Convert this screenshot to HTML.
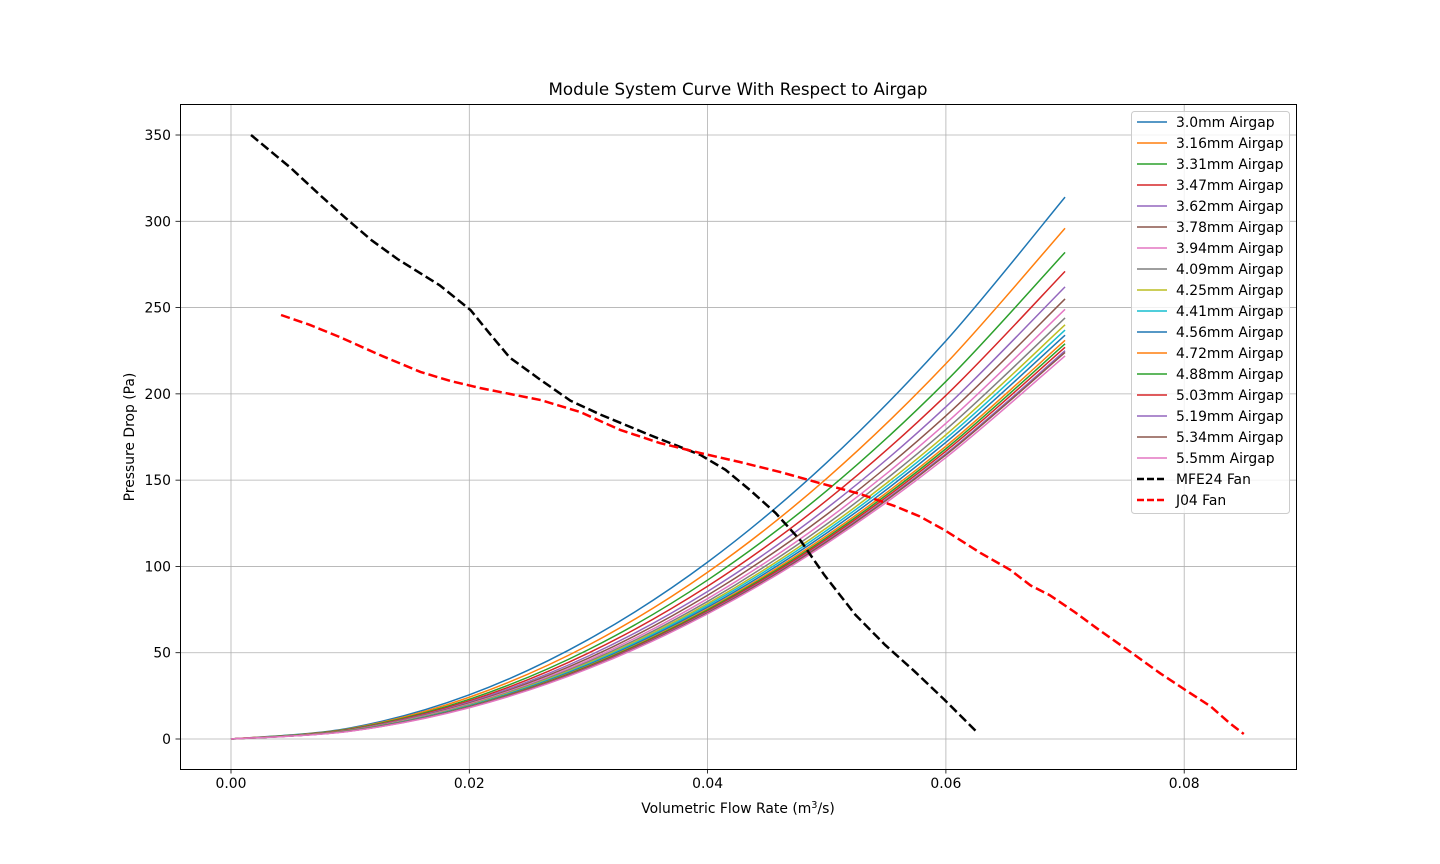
<!DOCTYPE html>
<html><head><meta charset="utf-8"><style>
body{margin:0;background:#fff;}
svg{display:block;font-family:"DejaVu Sans","Liberation Sans",sans-serif;}
</style></head><body>
<svg id="chart" width="1440" height="864">
<rect x="0" y="0" width="1440" height="864" fill="#fff"/>
<g id="grid"></g>
<g id="series"></g>
<rect x="180.5" y="104.5" width="1116" height="665" fill="none" stroke="#000" stroke-width="1"/>
<g id="ticks"></g>
<text x="738" y="95" text-anchor="middle" font-size="16.7">Module System Curve With Respect to Airgap</text>
<text x="738" y="813" text-anchor="middle" font-size="13.9">Volumetric Flow Rate (m<tspan dy="-5" font-size="9.7">3</tspan><tspan dy="5">/s)</tspan></text>
<text x="134" y="437" text-anchor="middle" font-size="13.9" transform="rotate(-90 134 437)">Pressure Drop (Pa)</text>
<g id="legend"></g>
</svg>
<script>
const xTicks=[0,0.02,0.04,0.06,0.08];
const xTickLabels=["0.00","0.02","0.04","0.06","0.08"];
const yTicks=[0,50,100,150,200,250,300,350];
const flowX=[0,0.01,0.02,0.03,0.04,0.05,0.06,0.07];
const airgapLabels=["3.0mm Airgap","3.16mm Airgap","3.31mm Airgap","3.47mm Airgap","3.62mm Airgap","3.78mm Airgap","3.94mm Airgap","4.09mm Airgap","4.25mm Airgap","4.41mm Airgap","4.56mm Airgap","4.72mm Airgap","4.88mm Airgap","5.03mm Airgap","5.19mm Airgap","5.34mm Airgap","5.5mm Airgap"];
const s0=[0,6.4,25.6,57.7,102.5,160.2,230.7,314];
const s1=[0,6.0,24.2,54.4,96.6,151.0,217.5,296];
const s2=[0,5.8,23.0,51.8,92.1,143.9,207.2,282];
const s3=[0,5.5,22.1,49.8,88.5,138.3,199.1,271];
const s4=[0,5.3,21.4,48.1,85.5,133.7,192.5,262];
const s5=[0,5.2,20.8,46.8,83.3,130.1,187.3,255];
const s6=[0,5.1,20.3,45.7,81.3,127.0,182.9,249];
const s7=[0,5.0,19.9,44.8,79.7,124.5,179.3,244];
const s8=[0,4.9,19.6,44.1,78.4,122.4,176.3,240];
const s9=[0,4.8,19.3,43.5,77.4,120.9,174.1,237];
const s10=[0,4.8,19.1,43.0,76.4,119.4,171.9,234];
const s11=[0,4.7,18.8,42.4,75.4,117.9,169.7,231];
const s12=[0,4.7,18.7,42.1,74.8,116.8,168.2,229];
const s13=[0,4.6,18.5,41.7,74.1,115.8,166.8,227];
const s14=[0,4.6,18.4,41.3,73.5,114.8,165.3,225];
const s15=[0,4.6,18.3,41.1,73.1,114.3,164.6,224];
const s16=[0,4.5,18.1,40.8,72.5,113.3,163.1,222];
const mfeX=[0.00168,0.005,0.0075,0.0096,0.0118,0.014,0.0175,0.0201,0.0217,0.0234,0.026,0.0285,0.031,0.0352,0.0394,0.0415,0.0436,0.0457,0.0478,0.0498,0.0524,0.0549,0.0574,0.0599,0.0626];
const mfeY=[350,331,315,302,289,278,263,248.6,235,221,208,196,188,176,164.6,156,144,131,115,95,72,54.5,39,22.6,4];
const j04X=[0.0042,0.0066,0.0091,0.0125,0.0159,0.0184,0.0209,0.026,0.0293,0.0327,0.036,0.0394,0.0427,0.0461,0.0494,0.0528,0.0557,0.0578,0.0599,0.0629,0.0654,0.0671,0.0687,0.0708,0.0729,0.0755,0.078,0.0801,0.0822,0.0838,0.085];
const j04Y=[245.7,240,233,222.5,212.7,207.5,203.4,196.4,189.5,179,171.5,165.7,160.5,154.7,148.3,142,135,129,121,107.8,98,89,83.4,73.6,63,50.4,38,28.4,19,9.3,2.9];

const series=[s0,s1,s2,s3,s4,s5,s6,s7,s8,s9,s10,s11,s12,s13,s14,s15,s16];
const colors=["#1f77b4","#ff7f0e","#2ca02c","#d62728","#9467bd","#8c564b","#e377c2","#7f7f7f","#bcbd22","#17becf"];
const NS="http://www.w3.org/2000/svg";
const xs=v=>231+v*11915;
const ys=p=>739-p*1.7257;
function mk(tag,attrs,parent){const e=document.createElementNS(NS,tag);for(const k in attrs)e.setAttribute(k,attrs[k]);parent.appendChild(e);return e;}
const grid=document.getElementById('grid'),ticks=document.getElementById('ticks'),sg=document.getElementById('series'),lg=document.getElementById('legend');
xTicks.forEach((v,i)=>{const x=xs(v);
 const g=mk('line',{x1:x,x2:x,y1:104,y2:769,stroke:'#b0b0b0','stroke-width':0.8},grid);
 
 mk('line',{x1:x,x2:x,y1:769,y2:773.5,stroke:'#000','stroke-width':0.8},ticks);
 const t=mk('text',{x:x,y:788,'text-anchor':'middle','font-size':13.9},ticks);t.textContent=xTickLabels[i];
 });
yTicks.forEach(v=>{const y=ys(v);
 const g=mk('line',{x1:180,x2:1296,y1:y,y2:y,stroke:'#b0b0b0','stroke-width':0.8},grid);
 
 mk('line',{x1:175.5,x2:180,y1:y,y2:y,stroke:'#000','stroke-width':0.8},ticks);
 const t=mk('text',{x:171,y:y+5,'text-anchor':'end','font-size':13.9},ticks);t.textContent=String(v);
 });
function smooth(xv,yv){const P=xv.map((x,i)=>[xs(x),ys(yv[i])]);let d='M'+P[0][0]+','+P[0][1];
 for(let i=0;i<P.length-1;i++){const p0=P[Math.max(0,i-1)],p1=P[i],p2=P[i+1],p3=P[Math.min(P.length-1,i+2)];
 d+=' C'+(p1[0]+(p2[0]-p0[0])/6)+','+(p1[1]+(p2[1]-p0[1])/6)+' '+(p2[0]-(p3[0]-p1[0])/6)+','+(p2[1]-(p3[1]-p1[1])/6)+' '+p2[0]+','+p2[1];}
 return d;}
function poly(xv,yv){return xv.map((x,i)=>(i?'L':'M')+xs(x)+','+ys(yv[i])).join(' ');}
series.forEach((s,i)=>{const p=mk('path',{d:smooth(flowX,s),fill:'none',stroke:colors[i%10],'stroke-width':1.5},sg);
 });
const m=mk('path',{d:poly(mfeX,mfeY),fill:'none',stroke:'#000','stroke-width':2.5,'stroke-dasharray':'9.25,4'},sg);

const j=mk('path',{d:poly(j04X,j04Y),fill:'none',stroke:'#ff0000','stroke-width':2.5,'stroke-dasharray':'9.25,4'},sg);

const box=mk('rect',{x:1131.5,y:111.5,width:158,height:402,rx:3,fill:'#fff','fill-opacity':0.8,stroke:'#cccccc'},lg);

const labs=airgapLabels.concat(["MFE24 Fan","J04 Fan"]);
labs.forEach((l,i)=>{const y=122+i*21;const g=mk('g',{},lg);
 
 const isF=i>=17;const c=i<17?colors[i%10]:(i==17?'#000':'#ff0000');
 mk('line',{x1:1137,x2:1167,y1:y,y2:y,stroke:c,'stroke-width':isF?2.5:1.5,'stroke-dasharray':isF?'7,3':'none'},g);
 const t=mk('text',{x:1176,y:y+5,'font-size':13.9},g);t.textContent=l;});
</script>
</body></html>
